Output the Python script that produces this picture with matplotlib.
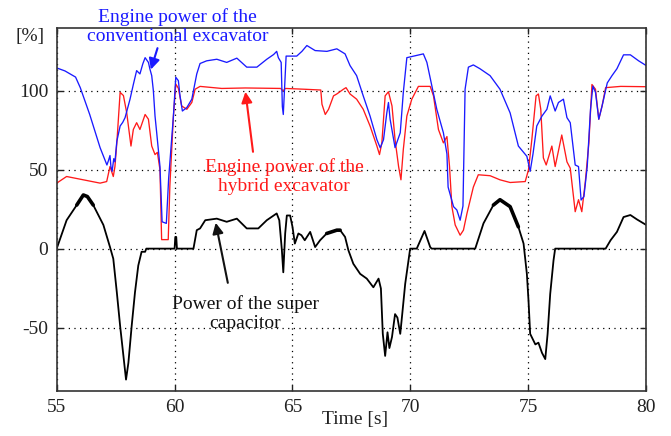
import matplotlib
matplotlib.use("Agg")
import matplotlib.pyplot as plt
import numpy as np

plt.rcParams['font.family'] = ['Liberation Serif', 'DejaVu Serif']
plt.rcParams['axes.unicode_minus'] = False

# Engine power of the conventional excavator (blue)
conv_t = [55.0, 55.35, 55.8, 56.0, 56.4, 56.84, 57.13, 57.2, 57.26, 57.3, 57.35, 57.42, 57.47, 57.55,
          57.69, 57.8, 57.9, 58.11, 58.25, 58.39, 58.53, 58.65, 58.75, 58.89, 58.95, 59.03, 59.1, 59.17,
          59.24, 59.38, 59.47, 59.65, 59.75, 59.95, 60.05, 60.16, 60.23, 60.33, 60.52, 60.73, 60.94,
          61.08, 61.36, 61.79, 62.21, 62.64, 63.06, 63.49, 63.91, 64.2, 64.33, 64.4, 64.52, 64.57,
          64.61, 64.66, 64.73, 64.9, 65.18, 65.4, 65.61, 65.96, 66.46, 66.88, 67.23, 67.44, 67.72,
          68.0, 68.29, 68.58, 68.72, 68.86, 69.0, 69.07, 69.14, 69.35, 69.57, 69.7, 69.85, 70.27,
          70.55, 70.7, 70.91, 71.12, 71.4, 71.55, 71.6, 71.83, 71.97, 72.11, 72.23, 72.32, 72.46,
          72.67, 72.95, 73.38, 73.8, 74.23, 74.58, 74.94, 75.08, 75.2, 75.36, 75.58, 75.79, 75.93,
          76.14, 76.28, 76.49, 76.64, 76.78, 76.99, 77.13, 77.24, 77.36, 77.5, 77.64, 77.74, 77.85,
          77.99, 78.13, 78.35, 78.55, 78.76, 79.04, 79.33, 79.68, 80.0]
conv_p = [114.5, 112.6, 108.7, 102, 85, 64, 53, 56, 59, 52, 49, 57, 55, 68,
          77.7, 80, 83, 94.7, 104, 112.8, 110.7, 117, 121, 118, 114, 109.6, 100, 84,
          73.6, 52, 17, 16, 45, 84, 108.6, 106.4, 96.8, 87.2, 89.4, 94.7, 110.7,
          117.3, 119, 120, 118, 120.7, 115, 115, 120, 123, 125, 121, 118, 90,
          85, 100, 122, 122, 122, 125, 128.7, 125.5, 125, 126.6, 123.4, 116, 109.6,
          96.8, 84, 69, 63.9, 69, 86, 92.6, 82, 64, 73.4, 99, 121, 122.4,
          123.4, 118, 103, 88.3, 73.4, 60, 39, 26.6, 24.5, 18, 27, 101, 115,
          116.4, 114, 109.6, 101, 86, 65, 58.5, 49, 60, 77.7, 84, 88.3, 96.8,
          87.2, 92.6, 94.7, 83, 79.8, 53, 52, 30.8, 33, 52, 88.3, 103, 99,
          82, 90.4, 105, 109.6, 114, 122.8, 122.8, 119, 116]

# Engine power of the hybrid excavator (red)
hyb_t = [55.0, 55.42, 56.13, 56.84, 57.12, 57.26, 57.4, 57.47, 57.55, 57.69, 57.83, 57.97, 58.15,
         58.25, 58.39, 58.53, 58.75, 58.89, 59.03, 59.17, 59.27, 59.38, 59.45, 59.73, 59.8, 59.95,
         60.05, 60.16, 60.3, 60.52, 60.73, 60.87, 61.08, 62.0, 63.0, 64.5, 64.6, 64.7, 65.5, 66.2,
         66.25, 66.39, 66.53, 66.74, 66.88, 67.16, 67.27, 67.44, 67.72, 68.0, 68.29, 68.58, 68.69,
         68.79, 68.93, 69.07, 69.22, 69.35, 69.5, 69.6, 69.7, 69.85, 70.06, 70.34, 70.84, 70.98,
         71.19, 71.4, 71.55, 71.66, 71.76, 71.9, 72.11, 72.25, 72.4, 72.67, 72.88, 73.38, 73.8,
         74.23, 74.87, 75.01, 75.15, 75.33, 75.43, 75.53, 75.64, 75.76, 76.0, 76.14, 76.42, 76.64,
         76.78, 76.99, 77.13, 77.27, 77.42, 77.57, 77.7, 77.85, 77.99, 78.13, 78.28, 78.92, 80.0]
hyb_p = [41.5, 45.7, 43.6, 41.5, 42.5, 52, 45.7, 52, 67, 99, 97, 86, 65,
         75.5, 79.8, 75.5, 85, 82, 65, 59.6, 61, 50, 5.7, 5.7, 40, 84,
         104.3, 101.6, 90.4, 88.3, 92.6, 101, 102.8, 101.5, 101.8, 101.5, 100, 101.5, 101, 100.5,
         91.5, 85, 88.3, 96.8, 98, 101, 102, 98, 94.7, 88.3, 77.7, 65, 59.6,
         67, 96.8, 99.4, 90.4, 69, 52, 43.6, 62.8, 84, 94.7, 102.8, 102.8, 96.8,
         75.5, 67, 71, 52, 26.6, 15, 8.5, 11.7, 22.3, 39, 46.8, 46.2, 43.6,
         41.9, 42.5, 50, 69, 96.8, 98, 88.3, 57.5, 53, 65, 52, 72, 55,
         51, 23.4, 31, 23.4, 42.5, 67, 104, 101, 82, 90.4, 102, 102.8, 102.6]

# Power of the super capacitor (black)
cap_t = [55.0, 55.42, 55.85, 56.13, 56.3, 56.55, 56.98, 57.26, 57.4, 57.55, 57.69, 57.83, 57.94,
         58.04, 58.18, 58.32, 58.46, 58.6, 58.75, 58.8, 60.0, 60.03, 60.07, 60.1, 60.8, 60.94,
         61.08, 61.3, 61.79, 62.21, 62.64, 63.06, 63.55, 63.91, 64.33, 64.44, 64.55, 64.61, 64.69,
         64.76, 64.9, 65.0, 65.1, 65.25, 65.38, 65.52, 65.75, 65.96, 66.17, 66.45, 66.88, 67.02,
         67.23, 67.37, 67.58, 67.87, 68.15, 68.43, 68.65, 68.75, 68.83, 68.93, 69.03, 69.11, 69.22,
         69.35, 69.45, 69.57, 69.64, 69.78, 69.92, 69.99, 70.27, 70.6, 70.84, 70.9, 72.75, 73.1,
         73.52, 73.8, 74.23, 74.58, 74.8, 74.94, 75.01, 75.08, 75.3, 75.43, 75.58, 75.72, 75.82,
         75.93, 76.07, 76.14, 78.28, 78.49, 78.76, 79.04, 79.33, 79.61, 80.0]
cap_p = [0, 18, 27.6, 34, 33, 27.6, 15, 1, -6.4, -27.7, -49, -68, -83,
         -72.4, -49, -27.7, -10.7, -2, -2, 0, 0, 7.4, 7.4, 0, 0, 11.7,
         12.8, 18, 19, 17, 19, 12.8, 12.8, 18, 22.3, 18, -1, -15, 9.6,
         21, 21, 13.8, 3.2, 9.6, 8.5, 5.3, 10.6, 1, 5.3, 9.6, 11.7, 11.7,
         7.4, -1, -9.6, -16, -19, -24.5, -19, -25.3, -54, -68, -53, -63, -56,
         -41.5, -43.7, -54, -43.7, -22.3, -7.5, 0, 0, 11.2, 1, 0, 0, 16,
         27.6, 31, 26.6, 13.8, 3.2, -16, -33, -54, -60.7, -59.6, -66, -70, -54,
         -28.7, -7.5, 0, 0, 5.3, 10.6, 20, 21.3, 18.5, 15]

# time spans where the capacitor trace is noisy (drawn thicker)
noisy_spans = [(55.5, 56.9), (66.2, 67.1), (73.2, 74.6)]

xticks = [55, 60, 65, 70, 75, 80]
yticks = [-50, 0, 50, 100]

fig = plt.figure(figsize=(6.71, 4.36), dpi=100)
ax = fig.add_axes([0.0845, 0.104, 0.8785, 0.8325])

ct = np.array(cap_t)
cp = np.array(cap_p)
ax.plot(ct, cp, color='black', lw=1.3)
for a, b in noisy_spans:
    m = (ct >= a) & (ct <= b)
    ax.plot(ct[m], cp[m], color='black', lw=2.6, solid_capstyle='round')
ax.plot(hyb_t, hyb_p, color='#ff1a1a', lw=0.95)
ax.plot(conv_t, conv_p, color='#1a1aff', lw=0.95)

ax.set_xlim(55, 80)
ax.set_ylim(-90, 140)
ax.set_xticks(xticks)
ax.set_yticks(yticks)
ax.grid(True, color='black', linestyle=(0, (1, 3.5)), lw=0.9)
ax.tick_params(direction='in', length=4, width=1, labelsize=14, pad=6,
               top=True, right=True, colors='#222222')
for s in ax.spines.values():
    s.set_linewidth(1.2)
    s.set_color('#333333')

fs = 14
ax.text(60.13, 140.7, "Engine power of the\nconventional excavator", color='#1a1aff',
        fontsize=fs, ha='center', va='center', linespacing=1.15, clip_on=False)
ax.annotate('', xy=(58.96, 111.8), xytext=(59.31, 128.7),
            arrowprops=dict(arrowstyle='-|>', color='#1a1aff', lw=1.5, mutation_scale=16))

ax.text(64.64, 45.8, "Engine power of the\nhybrid excavator", color='#ff1a1a',
        fontsize=fs, ha='center', va='center', linespacing=1.15)
ax.annotate('', xy=(62.99, 101.1), xytext=(63.34, 59.6),
            arrowprops=dict(arrowstyle='-|>', color='#ff1a1a', lw=1.5, mutation_scale=16))

ax.text(62.99, -41, "Power of the super\ncapacitor", color='#111111',
        fontsize=fs, ha='center', va='center', linespacing=1.15)
ax.annotate('', xy=(61.72, 18.1), xytext=(62.28, -23.4),
            arrowprops=dict(arrowstyle='-|>', color='#111111', lw=1.5, mutation_scale=16))

fig.text(0.0447, 0.917, "[%]", fontsize=fs, ha='center', va='center', color='#222222')
fig.text(0.529, 0.037, "Time [s]", fontsize=fs, ha='center', va='center', color='#222222')

fig.savefig("out.png", dpi=100)
